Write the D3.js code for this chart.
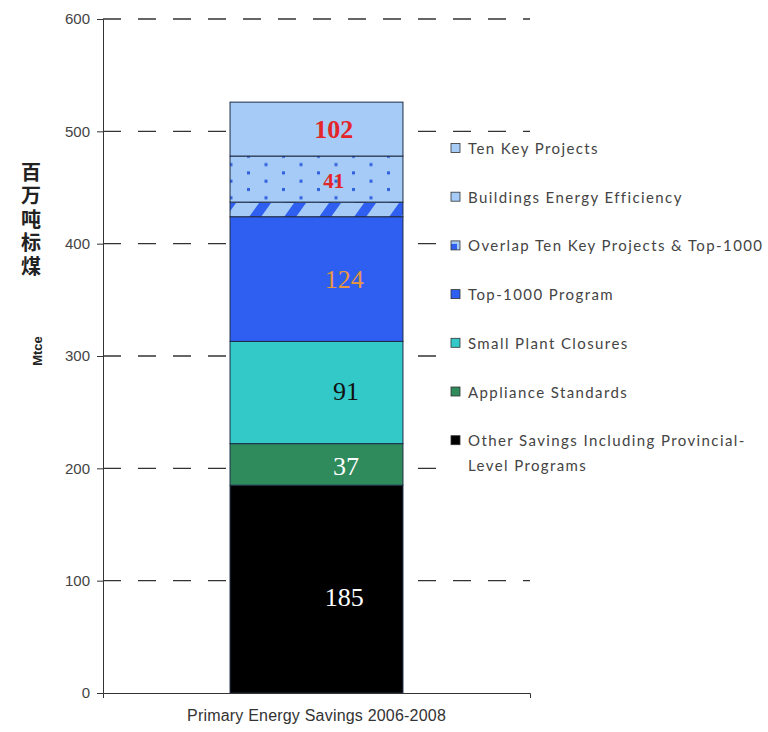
<!DOCTYPE html>
<html>
<head>
<meta charset="utf-8">
<script src="https://cdn.jsdelivr.net/npm/d3@7"></script>
<style>
  body { margin: 0; background: #fff; }
  #graf { width: 768px; height: 732px; }
  .eje text { font-family: 'Liberation Sans', Arial, sans-serif; font-size: 15px; fill: #444; }
  .eje path, .eje line { stroke: #333; }
  .leyenda text { font-family: Lato, 'Open Sans', sans-serif; font-size: 15px; fill: #444; letter-spacing: 1.4px; }
  .etiqueta { font-family: 'Liberation Serif', 'Times New Roman', serif; font-size: 26px; }
</style>
</head>
<body>
<div id="graf"></div>
<script>
// I. Datos
categorias = ['Primary Energy Savings 2006-2008']

// de abajo hacia arriba, en el orden en que se apilan
series = [
  'Other Savings Including Provincial-Level Programs',
  'Appliance Standards',
  'Small Plant Closures',
  'Top-1000 Program',
  'Overlap Ten Key Projects & Top-1000',
  'Buildings Energy Efficiency',
  'Ten Key Projects'
]
valores = [185, 37, 91, 111, 13, 41, 48]
etiquetas = ['185', '37', '91', '124', '', '41', '102']
yTicks = [0, 100, 200, 300, 400, 500, 600]

// estilos (aparte de los datos)
rellenos = ['#000000', '#2f8a5c', '#33c9c9', '#2f5ff0', 'url(#rayas)', 'url(#puntos)', '#a6cbf6']
rellenosLeyenda = ['#000000', '#2f8a5c', '#33c9c9', '#2f5ff0', 'url(#rayasChicas)', '#a6cbf6', '#a6cbf6']
estiloEtiqueta = [
  { color: '#ffffff', peso: 'normal', tam: 26, fx: 0.66, dy: 8 },
  { color: '#ffffff', peso: 'normal', tam: 26, fx: 0.67, dy: 2 },
  { color: '#111111', peso: 'normal', tam: 26, fx: 0.67, dy: -1 },
  { color: '#e8963f', peso: 'normal', tam: 26, fx: 0.66, dy: 0 },
  { color: '#000', peso: 'normal', tam: 26, fx: 0.6, dy: 0 },
  { color: '#e3262a', peso: 'bold', tam: 21, fx: 0.6, dy: 2 },
  { color: '#e3262a', peso: 'bold', tam: 26, fx: 0.6, dy: 0 }
]

// II. Configuración
margins = { top: 19, left: 103, right: 238, bottom: 39 }
ancho_total = 768
alto_total = 732
ancho = ancho_total - margins.left - margins.right
alto = alto_total - margins.top - margins.bottom

svg = d3.select('#graf').append('svg')
        .attr('width', ancho_total)
        .attr('height', alto_total)

defs = svg.append('defs')

// puntos para "Buildings Energy Efficiency"
puntos = defs.append('pattern')
  .attr('id', 'puntos')
  .attr('patternUnits', 'userSpaceOnUse')
  .attr('x', 0).attr('y', 0)
  .attr('width', 35).attr('height', 16.6)
puntos.append('rect').attr('width', 35).attr('height', 16.6).attr('fill', '#a6cbf6')
puntos.append('rect').attr('x', 4).attr('y', 3).attr('width', 3).attr('height', 3).attr('fill', '#2f5fe0')
puntos.append('rect').attr('x', 21.5).attr('y', 11.3).attr('width', 3).attr('height', 3).attr('fill', '#2f5fe0')

// rayas para el traslape
rayas = defs.append('pattern')
  .attr('id', 'rayas')
  .attr('patternUnits', 'userSpaceOnUse')
  .attr('width', 35).attr('height', 14)
  .attr('x', 6).attr('y', 184)
rayas.append('rect').attr('width', 35).attr('height', 14).attr('fill', '#a6cbf6')
rayas.append('path').attr('d', 'M0,14 L10,0 L22,0 L12,14 Z').attr('fill', '#2f5ff0')

rayasChicas = defs.append('pattern')
  .attr('id', 'rayasChicas')
  .attr('patternUnits', 'objectBoundingBox')
  .attr('width', 1).attr('height', 1)
rayasChicas.append('rect').attr('width', 9).attr('height', 9).attr('fill', '#a6cbf6')
rayasChicas.append('path').attr('d', 'M0,9 L0,3 L6,3 L6,9 Z').attr('fill', '#2f5ff0')

g = svg.append('g')
       .attr('transform', `translate(${ margins.left }, ${ margins.top })`)

y = d3.scaleLinear()
      .domain([0, 600])
      .range([alto, 0])

x = d3.scaleBand()
      .domain(categorias)
      .range([0, ancho])
      .paddingInner(0.4235)
      .paddingOuter(0.4235)

// líneas guía punteadas
g.append('g')
  .selectAll('line')
  .data(yTicks.filter(d => d > 0))
  .enter().append('line')
    .attr('x1', 0).attr('x2', ancho)
    .attr('y1', d => y(d)).attr('y2', d => y(d))
    .attr('stroke', '#333')
    .attr('stroke-width', 1.3)
    .attr('stroke-dasharray', '18,17')

// III. Barras apiladas
acumulado = d3.cumsum(valores)
segmentos = valores.map((v, i) => ({ serie: series[i], y0: acumulado[i] - v, y1: acumulado[i], i: i }))

g.append('g')
  .selectAll('rect')
  .data(segmentos)
  .enter().append('rect')
    .attr('x', x(categorias[0]))
    .attr('width', x.bandwidth())
    .attr('y', d => y(d.y1))
    .attr('height', d => y(d.y0) - y(d.y1))
    .attr('fill', d => rellenos[d.i])
    .attr('stroke', '#1d2b45')
    .attr('stroke-width', 1)

g.append('g')
  .selectAll('text')
  .data(segmentos.filter(d => etiquetas[d.i] !== ''))
  .enter().append('text')
    .attr('class', 'etiqueta')
    .attr('x', d => x(categorias[0]) + x.bandwidth() * estiloEtiqueta[d.i].fx)
    .attr('y', d => y((d.y0 + d.y1) / 2) + estiloEtiqueta[d.i].dy)
    .attr('text-anchor', 'middle')
    .attr('dominant-baseline', 'central')
    .style('font-size', d => estiloEtiqueta[d.i].tam + 'px')
    .style('font-weight', d => estiloEtiqueta[d.i].peso)
    .style('fill', d => estiloEtiqueta[d.i].color)
    .text(d => etiquetas[d.i])

// IV. Ejes
yAxisGroup = g.append('g').attr('class', 'eje')
yAxisGroup.call(d3.axisLeft(y).tickValues(yTicks).tickSize(6).tickSizeOuter(0).tickPadding(7))

xAxisGroup = g.append('g').attr('class', 'eje')
              .attr('transform', `translate(0, ${ alto })`)
xAxisGroup.call(d3.axisBottom(x).tickSize(0).tickSizeOuter(5).tickPadding(17))
xAxisGroup.selectAll('text')
          .style('font-size', '16px')
          .style('letter-spacing', '0.2px')
          .style('fill', '#333')

// títulos del eje y
svg.append('text')
  .attr('x', 31)
  .attr('y', 162)
  .style('writing-mode', 'vertical-rl')
  .style('font-family', "'Noto Sans CJK SC', sans-serif")
  .style('font-size', '20px')
  .style('font-weight', 'bold')
  .style('letter-spacing', '3.5px')
  .style('fill', '#222')
  .text('百万吨标煤')

svg.append('text')
  .attr('transform', 'translate(37, 351) rotate(-90)')
  .attr('text-anchor', 'middle')
  .attr('dominant-baseline', 'central')
  .style('font-family', "'Liberation Sans', Arial, sans-serif")
  .style('font-size', '13px')
  .style('font-weight', 'bold')
  .style('fill', '#222')
  .text('Mtce')

// V. Leyenda (fondo blanco que tapa las líneas guía)
leyenda = svg.append('g').attr('class', 'leyenda')
leyenda.append('rect')
  .attr('x', 441).attr('y', 137)
  .attr('width', ancho_total - 441).attr('height', 343)
  .attr('fill', '#fff')
ordenLeyenda = d3.range(series.length).reverse()
items = leyenda.selectAll('g')
  .data(ordenLeyenda)
  .enter().append('g')
    .attr('transform', (d, k) => `translate(451, ${ 148 + k * 48.7 })`)
items.append('rect')
  .attr('x', 0).attr('y', -4.5)
  .attr('width', 9).attr('height', 9)
  .attr('fill', d => rellenosLeyenda[d])
  .attr('stroke', '#333')
  .attr('stroke-width', 0.8)
items.append('text')
  .attr('x', 17)
  .attr('y', 0)
  .attr('dominant-baseline', 'central')
  .each(function(d) {
    lineas = series[d] === 'Other Savings Including Provincial-Level Programs'
      ? ['Other Savings Including Provincial-', 'Level Programs']
      : [series[d]]
    d3.select(this).selectAll('tspan')
      .data(lineas)
      .enter().append('tspan')
        .attr('x', 17)
        .attr('dy', (t, j) => j === 0 ? 0 : 25)
        .text(t => t)
  })
</script>
</body>
</html>
